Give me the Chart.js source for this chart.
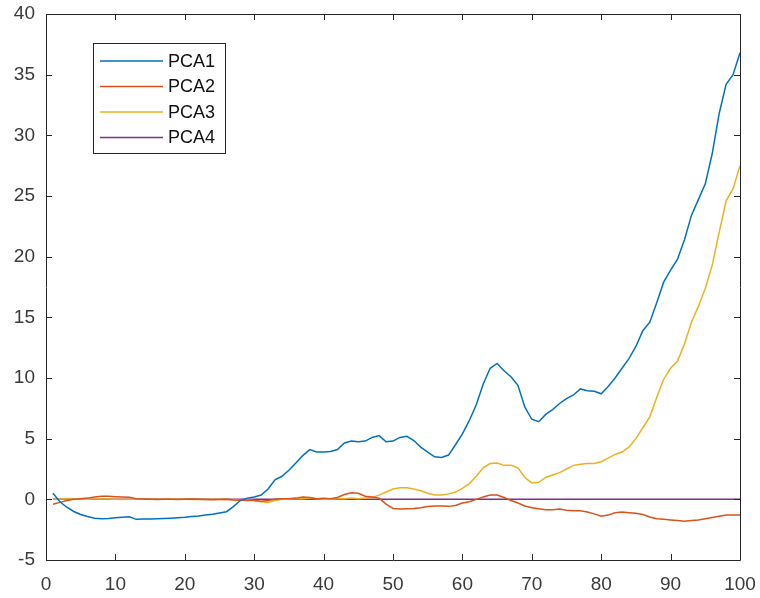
<!DOCTYPE html>
<html>
<head>
<meta charset="utf-8">
<script src="https://cdn.jsdelivr.net/npm/chart.js@4.4.1/dist/chart.umd.min.js"></script>
<style>
html,body{margin:0;padding:0;background:#fff;}
#wrap{width:760px;height:598px;}
</style>
</head>
<body>
<div id="wrap"><canvas id="c" width="760" height="598"></canvas></div>
<script>
const xValues = Array.from({length:100},(_,i)=>i+1);
const seriesLabels = ['PCA1','PCA2','PCA3','PCA4'];
const xTicks = [0,10,20,30,40,50,60,70,80,90,100];
const yTicks = [-5,0,5,10,15,20,25,30,35,40];

const pca1 = [0.5,-0.2,-0.65,-1.0,-1.25,-1.42,-1.55,-1.6,-1.57,-1.52,
-1.47,-1.43,-1.65,-1.63,-1.62,-1.6,-1.58,-1.55,-1.52,-1.48,
-1.42,-1.37,-1.3,-1.22,-1.12,-1.02,-0.6,-0.1,0.1,0.2,
0.35,0.85,1.6,1.9,2.4,3.0,3.6,4.1,3.9,3.9,
3.95,4.1,4.65,4.8,4.75,4.8,5.1,5.25,4.75,4.8,
5.1,5.2,4.85,4.3,3.9,3.5,3.45,3.65,4.5,5.4,
6.5,7.8,9.5,10.8,11.2,10.6,10.1,9.4,7.6,6.6,
6.4,7.0,7.4,7.9,8.3,8.6,9.1,8.95,8.9,8.7,
9.3,10.0,10.8,11.6,12.6,13.9,14.6,16.2,17.9,18.9,
19.8,21.4,23.4,24.7,26.0,28.5,31.8,34.2,35.0,36.8];

const pca2 = [-0.4,-0.25,-0.1,0.0,0.05,0.1,0.2,0.25,0.25,0.22,
0.2,0.18,0.05,0.02,0.0,-0.02,0.0,0.01,-0.01,0.0,
0.02,0.0,-0.02,-0.03,-0.02,0.0,-0.05,-0.08,-0.1,-0.1,
-0.15,-0.1,0.0,0.05,0.05,0.1,0.2,0.15,0.05,0.08,
0.05,0.15,0.4,0.55,0.5,0.25,0.2,0.1,-0.4,-0.75,
-0.8,-0.78,-0.75,-0.7,-0.6,-0.55,-0.55,-0.58,-0.5,-0.3,
-0.2,0.0,0.2,0.35,0.35,0.15,-0.1,-0.3,-0.55,-0.7,
-0.78,-0.85,-0.85,-0.8,-0.9,-0.95,-0.95,-1.05,-1.2,-1.4,
-1.3,-1.1,-1.05,-1.1,-1.15,-1.25,-1.45,-1.6,-1.65,-1.7,
-1.75,-1.8,-1.75,-1.7,-1.6,-1.5,-1.4,-1.3,-1.3,-1.3];

const pca3 = [0.0,0.02,0.03,0.02,0.01,0.0,0.02,0.03,0.02,0.0,
-0.01,0.0,0.02,0.01,0.0,0.0,0.01,0.02,0.01,0.0,
-0.01,-0.02,-0.01,0.0,0.0,-0.02,-0.03,-0.05,-0.05,-0.1,
-0.2,-0.25,-0.1,0.0,0.0,0.05,0.05,0.1,0.05,0.0,
0.0,0.05,0.05,0.1,0.05,0.1,0.15,0.35,0.6,0.85,
0.95,0.95,0.85,0.7,0.5,0.35,0.35,0.45,0.6,0.9,
1.3,1.9,2.6,2.95,3.0,2.8,2.8,2.6,1.8,1.35,
1.4,1.8,2.0,2.2,2.5,2.8,2.9,2.95,2.95,3.1,
3.4,3.7,3.9,4.3,5.0,5.9,6.8,8.4,9.9,10.8,
11.4,12.8,14.6,15.9,17.4,19.3,22.0,24.6,25.6,27.5];

const pca4 = [0,0,0,0,0,0,0,0,0,0,0,0,0,0,0,0,0,0,0,0,
0,0,0,0,0,0,0,0,0,0,0,0,0,0,0,0,0,0,0,0,
0,0,0,0,0,0,0,0,0,0,0,0,0,0,0,0,0,0,0,0,
0,0,0,0,0,0,0,0,0,0,0,0,0,0,0,0,0,0,0,0,
0,0,0,0,0,0,0,0,0,0,0,0,0,0,0,0,0,0,0,0];

const colors = ['#0072BD','#D95319','#EDB120','#7E2F8E'];
const allSeries = [pca1,pca2,pca3,pca4];

const datasets = allSeries.map((s,i)=>({
  label: seriesLabels[i],
  data: s.map((v,j)=>({x:xValues[j], y:v})),
  borderColor: colors[i],
  backgroundColor: colors[i],
  borderWidth: 1.5,
  pointRadius: 0,
  tension: 0,
  fill: false
}));

const AXC = '#262626';
const FONT = '"Liberation Sans", Arial, sans-serif';
const boxPlugin = {
  id:'box',
  afterDatasetsDraw(chart){
    const {ctx, chartArea:a, scales:{x,y}} = chart;
    ctx.save();
    ctx.strokeStyle = AXC;
    ctx.lineWidth = 1;
    ctx.beginPath();
    ctx.rect(Math.round(a.left)+0.5, Math.round(a.top)+0.5, Math.round(a.right-a.left), Math.round(a.bottom-a.top));
    ctx.stroke();
    const tl = 6;
    ctx.beginPath();
    xTicks.forEach(t=>{
      const px = Math.round(x.getPixelForValue(t))+0.5;
      ctx.moveTo(px, a.bottom); ctx.lineTo(px, a.bottom-tl);
      ctx.moveTo(px, a.top); ctx.lineTo(px, a.top+tl);
    });
    yTicks.forEach(t=>{
      const py = Math.round(y.getPixelForValue(t))+0.5;
      ctx.moveTo(a.left, py); ctx.lineTo(a.left+tl, py);
      ctx.moveTo(a.right, py); ctx.lineTo(a.right-tl, py);
    });
    ctx.stroke();
    ctx.restore();
  },
  afterDraw(chart){
    const ctx = chart.ctx;
    ctx.save();
    const bx=93.5, by=43.5, bw=132, bh=110;
    ctx.fillStyle='#fff';
    ctx.fillRect(bx,by,bw,bh);
    ctx.strokeStyle=AXC; ctx.lineWidth=1;
    ctx.strokeRect(bx,by,bw,bh);
    ctx.font = '18px ' + FONT;
    ctx.textBaseline='middle';
    ctx.textAlign='left';
    chart.data.datasets.forEach((d,i)=>{
      const cy = 61 + i*25.5;
      ctx.strokeStyle = d.borderColor; ctx.lineWidth=1.5;
      ctx.beginPath(); ctx.moveTo(100,cy); ctx.lineTo(163,cy); ctx.stroke();
      ctx.fillStyle='#111';
      ctx.fillText(d.label, 168, cy+1);
    });
    ctx.restore();
  }
};

new Chart(document.getElementById('c'), {
  type:'line',
  data:{datasets},
  options:{
    responsive:false,
    animation:false,
    devicePixelRatio:1,
    layout:{padding:{left:0,right:20,top:14,bottom:0}},
    plugins:{legend:{display:false}, tooltip:{enabled:false}},
    scales:{
      x:{
        type:'linear', min:0, max:100,
        afterFit(s){ s.height = 38; s.paddingLeft = 0; s.paddingRight = 0; },
        afterBuildTicks(s){ s.ticks = xTicks.map(v=>({value:v})); },
        grid:{display:false, drawTicks:false},
        border:{display:false},
        ticks:{padding:13, color:'#3a3a3a', font:{family:FONT, size:19}, maxRotation:0, autoSkip:false}
      },
      y:{
        type:'linear', min:-5, max:40,
        afterFit(s){ s.width = 46; s.paddingTop = 0; s.paddingBottom = 0; },
        afterBuildTicks(s){ s.ticks = yTicks.map(v=>({value:v})); },
        grid:{display:false, drawTicks:false},
        border:{display:false},
        ticks:{padding:11, color:'#3a3a3a', font:{family:FONT, size:19}, autoSkip:false}
      }
    }
  },
  plugins:[boxPlugin]
});
</script>
</body>
</html>
